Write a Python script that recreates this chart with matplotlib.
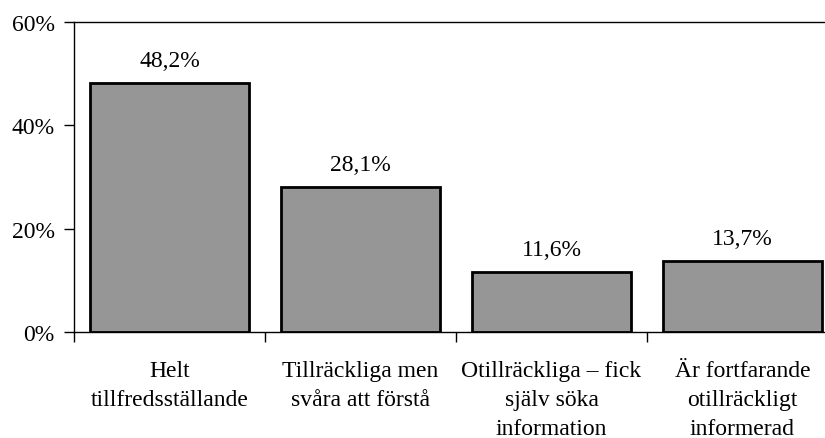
import matplotlib

matplotlib.use("Agg")
import matplotlib.pyplot as plt

categories = [
    "Helt\ntillfredsställande",
    "Tillräckliga men\nsvåra att förstå",
    "Otillräckliga – fick\nsjälv söka\ninformation",
    "Är fortfarande\notillräckligt\ninformerad",
]
values = [48.2, 28.1, 11.6, 13.7]
yticks = [0, 20, 40, 60]

plt.rcParams["font.family"] = ["Liberation Serif", "DejaVu Serif"]
FS = 17

fig = plt.figure(figsize=(8.25, 4.39), dpi=100)
# plot area runs past the right edge of the picture, as in the original
ax = fig.add_axes([74 / 825, 1 - 333 / 439, 764 / 825, 310 / 439])

x = range(len(values))
ax.bar(x, values, width=0.83, color="#969696", edgecolor="black", linewidth=2)
for i, v in zip(x, values):
    ax.text(i, v + 3.3, f"{v:.1f}%".replace(".", ","), ha="center",
            va="baseline", fontsize=FS)

ax.set_xlim(-0.5, len(values) - 0.5)
ax.set_ylim(0, 60)
ax.set_yticks(yticks, [f"{t}%" for t in yticks], fontsize=FS)
ax.set_xticks([i - 0.5 for i in range(len(values))], [""] * len(values))
ax.set_xticks(list(x), categories, minor=True, fontsize=FS, linespacing=1.5)
ax.tick_params(axis="x", which="minor", length=0, pad=20)
ax.tick_params(axis="x", which="major", length=7, width=1)
ax.tick_params(axis="y", length=7, width=1, pad=7)
for side in ["left", "bottom", "top"]:
    ax.spines[side].set_linewidth(1)
ax.spines["right"].set_visible(False)

fig.savefig("out.png", dpi=100)
